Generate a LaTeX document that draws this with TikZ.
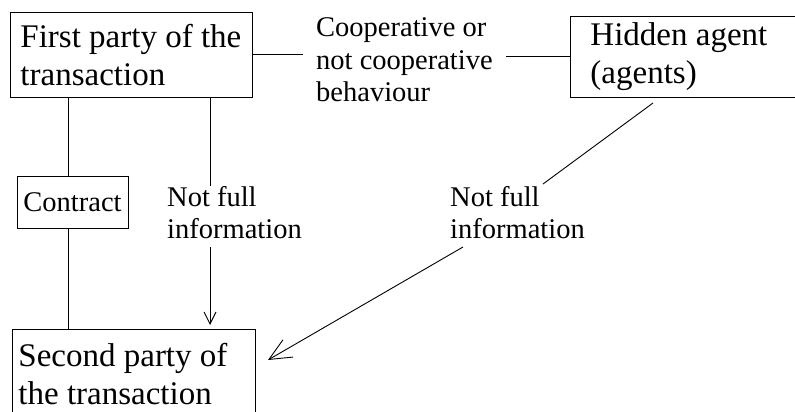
\documentclass[tikz,border=0pt]{standalone}
\usepackage{fontspec}
\setmainfont{Liberation Serif}
\usetikzlibrary{arrows.meta}
\newcommand{\bigtxt}{\fontsize{33}{38}\selectfont}
\newcommand{\smalltxt}{\fontsize{28.5}{32.5}\selectfont}
\tikzset{
  box/.style={draw, line width=0.9pt, rectangle, align=left, font=\bigtxt},
  lbl/.style={inner sep=0pt, align=left, font=\smalltxt, anchor=north west},
  conn/.style={line width=0.9pt},
  arr/.style={line width=0.9pt, -{Straight Barb[length=12pt,width=12pt,line width=0.9pt]}},
  bigarr/.style={line width=0.9pt, -{Straight Barb[length=22pt,width=20pt,line width=0.9pt]}}
}
\begin{document}
\begin{tikzpicture}[x=1pt,y=-1pt]
\useasboundingbox (0,0) rectangle (795,412);
% boxes
\node[box, anchor=north west, minimum height=85pt, inner xsep=10pt] (first) at (10,12) {\makebox[222pt][l]{First party of the}\\transaction};
\node[box, anchor=north west, minimum height=81pt, inner xsep=20pt] (hidden) at (570,16) {\makebox[200pt][l]{Hidden agent}\\(agents)};
\node[box, anchor=north west, inner xsep=6pt, inner ysep=13.5pt] (second) at (12,329) {\makebox[231pt][l]{Second party of}\\the transaction};
\node[box, font=\smalltxt, minimum width=111pt, minimum height=52pt, inner sep=0pt, align=center] (contract) at (72.5,202) {Contract};
% labels
\node[lbl, inner xsep=13pt] (coop) at (303,17.5) {Cooperative or\\not cooperative\\behaviour};
\node[lbl] (nf1) at (167,186) {Not full\\information};
\node[lbl] (nf2) at (450,186) {Not full\\information};
% helper coordinates
\coordinate (cx) at (68,0);
\coordinate (ax) at (210,0);
\coordinate (a1) at (210,247);
\coordinate (d1) at (653,103);
\coordinate (d2) at (543,184);
\coordinate (d3) at (463,247);
\coordinate (d4) at (268,360);
% connectors
\draw[conn] (first.east) -- (first.east -| coop.west);
\draw[conn] (hidden.west -| coop.east) -- (hidden.west);
\draw[conn] (first.south -| cx) -- (contract.north -| cx);
\draw[conn] (contract.south -| cx) -- (second.north -| cx);
\draw[conn] (first.south -| ax) -- (nf1.north -| ax);
\draw[arr, shorten >=4pt] (a1) -- (second.north -| ax);
\draw[conn] (d1) -- (d2);
\draw[bigarr] (d3) -- (d4);
\end{tikzpicture}
\end{document}
